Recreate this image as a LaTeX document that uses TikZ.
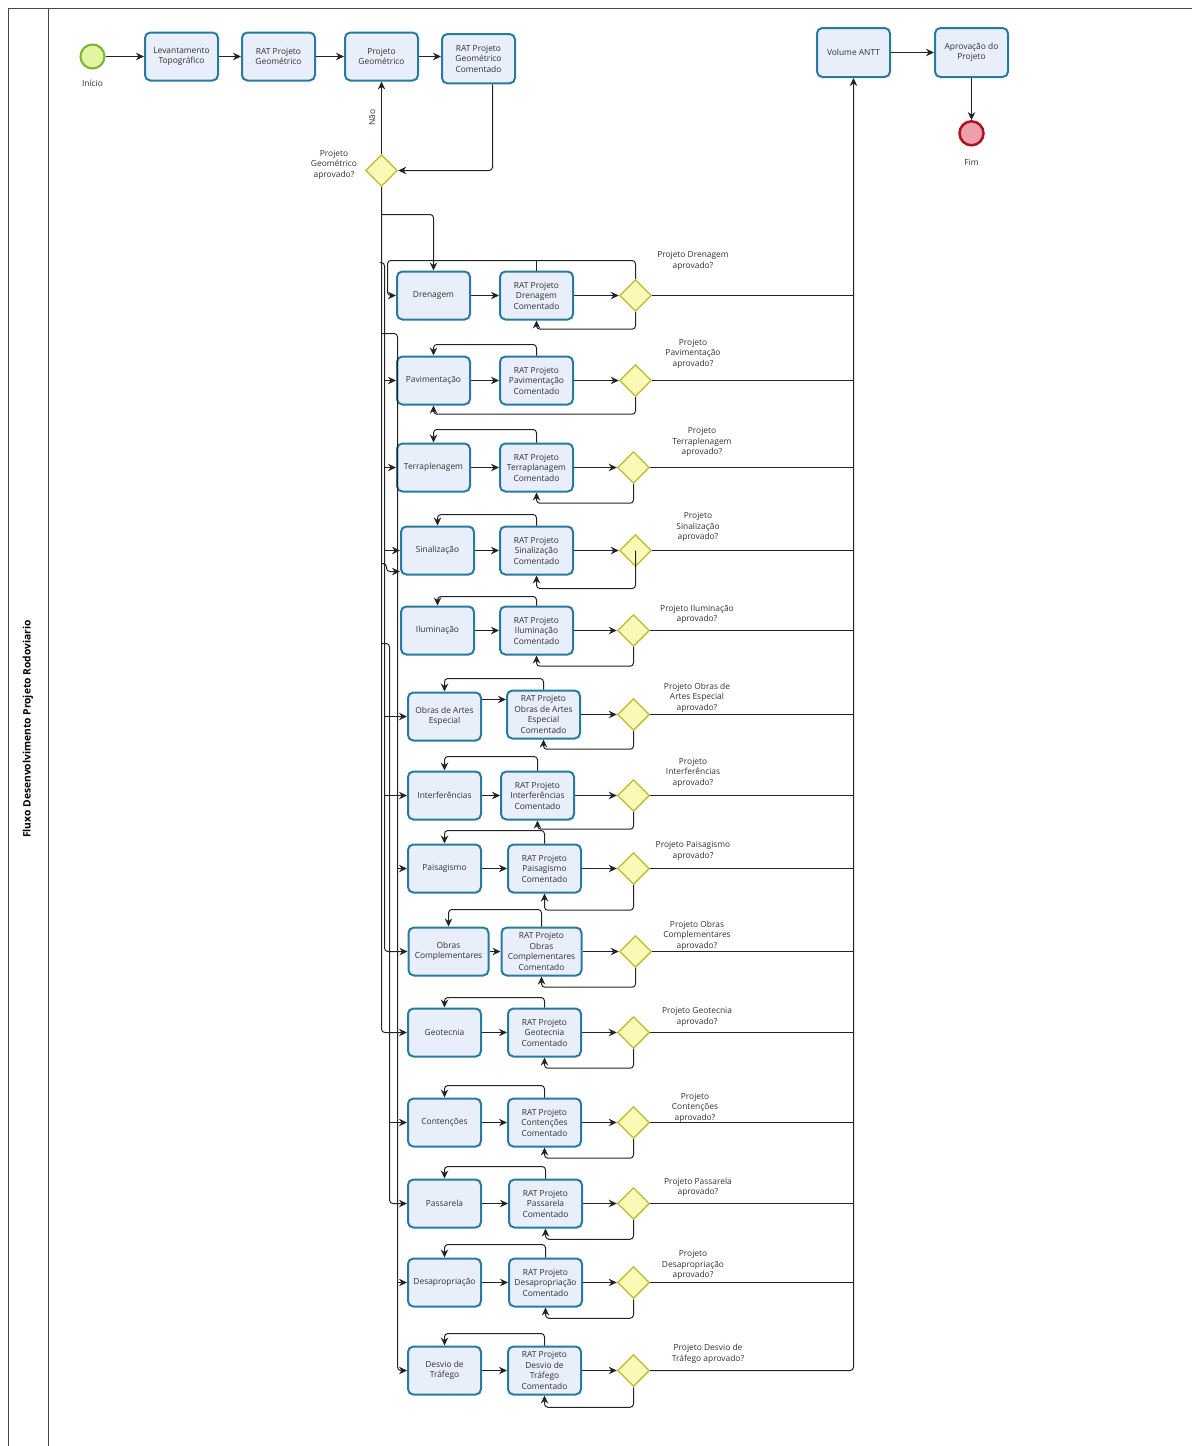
\documentclass[tikz,border=0pt]{standalone}
\usepackage{fontspec}
\setmainfont{Open Sans}
\usetikzlibrary{shapes.geometric,arrows.meta,calc}
\definecolor{boxline}{RGB}{40,122,160}
\definecolor{boxfill}{RGB}{232,238,250}
\definecolor{gwline}{RGB}{192,192,60}
\definecolor{gwfill}{RGB}{250,250,182}
\definecolor{stline}{RGB}{122,182,62}
\definecolor{stfill}{RGB}{226,246,160}
\definecolor{enline}{RGB}{172,22,32}
\definecolor{enfill}{RGB}{236,160,170}
\definecolor{linecol}{RGB}{35,35,35}
\definecolor{txt}{RGB}{50,50,50}
\definecolor{framecol}{RGB}{70,70,70}
\begin{document}
\begin{tikzpicture}[x=0.75pt,y=-0.75pt,
  every node/.style={font=\fontsize{6.3}{7.9}\selectfont, text=txt},
  proc/.style={draw=boxline, fill=boxfill, line width=1.5pt, rounded corners=4pt, minimum width=54.75pt, minimum height=36pt, align=center, inner sep=1pt},
  wideproc/.style={proc, minimum width=60pt},
  gate/.style={diamond, draw=gwline, fill=gwfill, line width=1.1pt, minimum width=24pt, minimum height=24pt, inner sep=0pt},
  flow/.style={draw=linecol, line width=0.75pt, rounded corners=2.5pt, -{Stealth[length=6pt,width=5.6pt]}},
  plain/.style={draw=linecol, line width=0.75pt, rounded corners=2.5pt},
  lbl/.style={align=center}
]
\useasboundingbox (0,0) rectangle (1192,1446);
% frame
\draw[framecol, line width=0.8pt] (8.5,1460) -- (8.5,8.5) -- (1200,8.5);
\draw[framecol, line width=0.8pt] (48.5,8.5) -- (48.5,1460);
\node[rotate=90, font=\fontsize{7.7}{8}\selectfont\bfseries, text=black] (title) at (28,729) {Fluxo Desenvolvimento Projeto Rodoviario};

% top row
\node[circle, draw=stline, fill=stfill, line width=1.6pt, minimum size=18pt, inner sep=0pt] (start) at (92.5,56.5) {};
\node (startlbl) at (92.5,83) {Início};
\node[proc] (lev) at (181.5,56.5) {Levantamento\\Topográfico};
\node[proc] (ratg) at (278.5,56.5) {RAT Projeto\\Geométrico};
\node[proc] (projg) at (381.5,56.5) {Projeto\\Geométrico};
\node[proc, minimum height=37pt] (ratgc) at (478.5,58.7) {RAT Projeto\\Geométrico\\Comentado};
\node[gate] (g0) at (381.5,170.5) {};
\node[lbl] (g0lbl) at (334,164.5) {Projeto\\Geométrico\\aprovado?};
\node[proc, minimum height=36.75pt] (vol) at (853.5,52.5) {Volume ANTT};
\node[proc, minimum height=36.75pt] (apr) at (971.5,52.5) {Aprovação do\\Projeto};
\node[circle, draw=enline, fill=enfill, line width=1.9pt, minimum size=18pt, inner sep=0pt] (endc) at (971.5,133.3) {};
\node (endlbl) at (971.5,162) {Fim};

\draw[flow] (start) -- (lev);
\draw[flow] (lev) -- (ratg);
\draw[flow] (ratg) -- (projg);
\draw[flow] (projg.east) -- (projg.east -| ratgc.west);
\draw[flow] ($(ratgc.south)+(14,0)$) |- (g0.east);
\draw[flow] (g0.north) -- node[rotate=90, anchor=south, pos=0.5, yshift=1pt] {Não} (projg.south);
\draw[flow] (vol) -- (apr);
\draw[flow] (apr) -- (endc);

% rows
\node[proc] (b1) at (433.5,295.5) {Drenagem};
\node[proc] (r1) at (536.5,295.5) {RAT Projeto\\Drenagem\\Comentado};
\node[gate] (g1) at (635.5,295.5) {};
\node[lbl] (l1) at (693,261) {Projeto Drenagem\\aprovado?};

\node[proc] (b2) at (433.5,380.5) {Pavimentação};
\node[proc] (r2) at (536.5,380.5) {RAT Projeto\\Pavimentação\\Comentado};
\node[gate] (g2) at (635.5,380.5) {};
\node[lbl] (l2) at (693,353.5) {Projeto\\Pavimentação\\aprovado?};

\node[proc] (b3) at (433.5,467.5) {Terraplenagem};
\node[proc] (r3) at (536.5,467.5) {RAT Projeto\\Terraplanagem\\Comentado};
\node[gate] (g3) at (633.5,467.5) {};
\node[lbl] (l3) at (702,442) {Projeto\\Terraplenagem\\aprovado?};

\node[proc] (b4) at (437.5,550.5) {Sinalização};
\node[proc] (r4) at (536.5,550.5) {RAT Projeto\\Sinalização\\Comentado};
\node[gate] (g4) at (635.5,550.5) {};
\node[lbl] (l4) at (698,527) {Projeto\\Sinalização\\aprovado?};

\node[proc] (b5) at (437.5,630.5) {Iluminação};
\node[proc] (r5) at (536.5,630.5) {RAT Projeto\\Iluminação\\Comentado};
\node[gate] (g5) at (633.5,630.5) {};
\node[lbl] (l5) at (697,614.5) {Projeto Iluminação\\aprovado?};

\node[proc] (b6) at (444.5,716.5) {Obras de Artes\\Especial};
\node[proc] (r6) at (543.5,714.5) {RAT Projeto\\Obras de Artes\\Especial\\Comentado};
\node[gate] (g6) at (633.5,714.5) {};
\node[lbl] (l6) at (697,697.5) {Projeto Obras de\\Artes Especial\\aprovado?};

\node[proc] (b7) at (444.5,795.5) {Interferências};
\node[proc] (r7) at (537.5,795.5) {RAT Projeto\\Interferências\\Comentado};
\node[gate] (g7) at (633.5,795.5) {};
\node[lbl] (l7) at (693,772.5) {Projeto\\Interferências\\aprovado?};

\node[proc] (b8) at (444.5,868.5) {Paisagismo};
\node[proc] (r8) at (544.5,868.5) {RAT Projeto\\Paisagismo\\Comentado};
\node[gate] (g8) at (633.5,868.5) {};
\node[lbl] (l8) at (693,851) {Projeto Paisagismo\\aprovado?};

\node[wideproc] (b9) at (448.5,951.5) {Obras\\Complementares};
\node[wideproc] (r9) at (541.5,951.5) {RAT Projeto\\Obras\\Complementares\\Comentado};
\node[gate] (g9) at (635.5,951.5) {};
\node[lbl] (l9) at (697,935.5) {Projeto Obras\\Complementares\\aprovado?};

\node[proc] (b10) at (444.5,1032.5) {Geotecnia};
\node[proc] (r10) at (544.5,1032.5) {RAT Projeto\\Geotecnia\\Comentado};
\node[gate] (g10) at (633.5,1032.5) {};
\node[lbl] (l10) at (697,1017) {Projeto Geotecnia\\aprovado?};

\node[proc] (b11) at (444.5,1122.5) {Contenções};
\node[proc] (r11) at (544.5,1122.5) {RAT Projeto\\Contenções\\Comentado};
\node[gate] (g11) at (633.5,1122.5) {};
\node[lbl] (l11) at (695,1107.5) {Projeto\\Contenções\\aprovado?};

\node[proc] (b12) at (444.5,1203.5) {Passarela};
\node[proc] (r12) at (545.5,1203.5) {RAT Projeto\\Passarela\\Comentado};
\node[gate] (g12) at (633.5,1203.5) {};
\node[lbl] (l12) at (698,1187.5) {Projeto Passarela\\aprovado?};

\node[proc] (b13) at (444.5,1282.5) {Desapropriação};
\node[proc] (r13) at (545.5,1282.5) {RAT Projeto\\Desapropriação\\Comentado};
\node[gate] (g13) at (633.5,1282.5) {};
\node[lbl] (l13) at (693,1265) {Projeto\\Desapropriação\\aprovado?};

\node[proc] (b14) at (444.5,1370.5) {Desvio de\\Tráfego};
\node[proc] (r14) at (544.5,1370.5) {RAT Projeto\\Desvio de\\Tráfego\\Comentado};
\node[gate] (g14) at (633.5,1370.5) {};
\node[lbl] (l14) at (708,1354) {Projeto Desvio de\\Tráfego aprovado?};

% feeds from the geometric gateway (trunks drawn once, branches from named points)
\coordinate (ta) at (381.5,214.5);
\coordinate (tb) at (381.5,262.5);
\coordinate (tc) at (381.5,333.5);
\coordinate (td) at (381.5,563.5);
\coordinate (te) at (381.5,643.5);
\draw[flow] (g0.south) |- (b10.west);
\draw[flow] (ta) -| (b1.north);
\draw[flow] (tb) -| (384.5,300) |- (b9.west);
\foreach \k in {2,3,4,6,7}{
  \draw[flow] (b\k.west -| 384.5,0) -- (b\k.west);
}
\draw[flow] (td) -| (386.5,571.5) -- ($(b4.west)+(0,21)$);
\draw[flow] (tc) -| (397.5,400) |- (b14.west);
\foreach \k in {8,13}{
  \draw[flow] (b\k.west -| 397.5,0) -- (b\k.west);
}
\draw[flow] (te) -| (389.5,700) |- (b12.west);
\draw[flow] (b11.west -| 389.5,0) -- (b11.west);

% row flows
\foreach \i in {1,2,3,4,5,7,8,9,10,11,12,13,14}{
  \draw[flow] (b\i) -- (r\i);
}
\draw[flow] ($(b6.east)+(0,-17)$) -- ($(r6.west)+(0,-15)$);
\foreach \i in {1,...,14}{
  \draw[flow] (r\i) -- (g\i);
}
% gateways to Volume ANTT
\draw[flow] (g14.east) -| (vol.south);
\foreach \i in {1,...,13}{
  \draw[plain] (g\i.east) -- (g\i.east -| vol.south);
}

% loops
\draw[flow] (g1.north) |- (387.5,260.5) |- (b1.west);
\draw[plain] (r1.north) -- ++(0,-11);
\draw[flow] (g1.south) -- ++(0,17) -| (r1.south);

\draw[flow] (r2.north) -- ++(0,-11) -| (b2.north);
\draw[flow] (g2.south) -- ++(0,17) -| (b2.south);

\draw[flow] (r3.north) -- ++(0,-13) -| (b3.north);
\draw[flow] (g3.south) -- ++(0,19) -| (r3.south);

\draw[flow] (r4.north) -- ++(0,-11) -| (b4.north);
\draw[flow] (g4.center) -- ++(0,38) -| (r4.south);

\draw[flow] (r5.north) -- ++(0,-9) -| (b5.north);
\draw[flow] (g5.south) -- ++(0,19) -| (r5.south);

\draw[flow] (r6.north) -- ++(0,-11) -| (b6.north);
\draw[flow] (g6.south) -- ++(0,18) -| (r6.south);

\draw[flow] (r7.north) -- ++(0,-14) -| (b7.north);
\draw[flow] (g7.south) -- ++(0,17) -| (r7.south);

\draw[flow] (r8.north) -- ++(0,-13) -| (b8.north);
\draw[flow] (g8.south) -- ++(0,25) -| (r8.south);

\draw[flow] (r9.north) -- ++(0,-17) -| (b9.north);
\draw[flow] (g9.south) -- ++(0,19) -| (r9.south);

\draw[flow] (r10.north) -- ++(0,-10) -| (b10.north);
\draw[flow] (g10.south) -- ++(0,19) -| (r10.south);

\draw[flow] (r11.north) -- ++(0,-12) -| (b11.north);
\draw[flow] (g11.south) -- ++(0,19) -| (r11.south);

\draw[flow] (r12.north) -- ++(0,-12) -| (b12.north);
\draw[flow] (g12.south) -- ++(0,19) -| (r12.south);

\draw[flow] (r13.north) -- ++(0,-13) -| (b13.north);
\draw[flow] (g13.south) -- ++(0,19) -| (r13.south);

\draw[flow] (r14.north) -- ++(0,-12) -| (b14.north);
\draw[flow] (g14.south) -- ++(0,20) -| (r14.south);
\end{tikzpicture}
\end{document}
